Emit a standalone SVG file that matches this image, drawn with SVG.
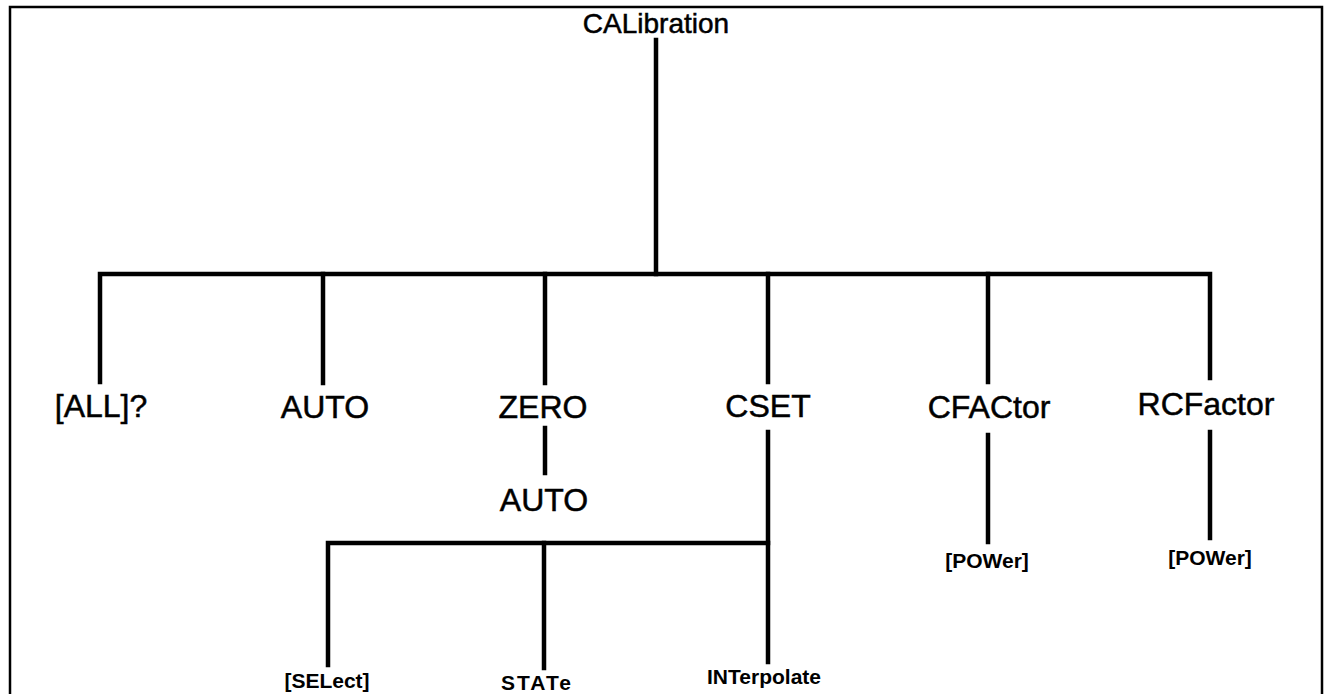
<svg xmlns="http://www.w3.org/2000/svg" width="1325" height="694" viewBox="0 0 1325 694">
<style>
.big{font-family:"Liberation Sans",Arial,sans-serif;font-size:32px;fill:#000;stroke:#000;stroke-width:0.5;text-anchor:middle}
.top{font-family:"Liberation Sans",Arial,sans-serif;font-size:28px;fill:#000;stroke:#000;stroke-width:0.5;text-anchor:middle}
.small{font-family:"Liberation Sans",Arial,sans-serif;font-size:21px;font-weight:bold;fill:#000;text-anchor:middle}
.ln{stroke:#000;stroke-width:4.5;fill:none;stroke-linecap:square}
.frame{stroke:#000;stroke-width:2.5;fill:none}
</style>
<rect width="1325" height="694" fill="#fff"/>
<path class="frame" d="M10 694 V7 H1322 V694"/>
<g id="connectors">
<path class="ln" d="M656 40 V274"/>
<path class="ln" d="M100 382 V274 H1210 V378"/>
<path class="ln" d="M323 274 V383"/>
<path class="ln" d="M545 274 V383"/>
<path class="ln" d="M768 274 V382"/>
<path class="ln" d="M988 274 V382"/>
<path class="ln" d="M545 428 V473"/>
<path class="ln" d="M768 432 V662"/>
<path class="ln" d="M328 665 V543 H768"/>
<path class="ln" d="M544 543 V668"/>
<path class="ln" d="M988 435 V542"/>
<path class="ln" d="M1210 432 V538"/>
</g>
<g id="n-calibration"><text class="top" x="656" y="33">CALibration</text></g>
<g id="n-all"><text class="big" x="101" y="417">[ALL]?</text></g>
<g id="n-auto"><text class="big" x="325" y="418">AUTO</text></g>
<g id="n-zero"><text class="big" x="543" y="418">ZERO</text></g>
<g id="n-cset"><text class="big" x="768" y="417">CSET</text></g>
<g id="n-cfactor"><text class="big" x="989" y="418">CFACtor</text></g>
<g id="n-rcfactor"><text class="big" x="1206" y="415">RCFactor</text></g>
<g id="n-zero-auto"><text class="big" x="544" y="511">AUTO</text></g>
<g id="n-select"><text class="small" x="327" y="688">[SELect]</text></g>
<g id="n-state"><text class="small" x="537" y="690" letter-spacing="2">STATe</text></g>
<g id="n-interpolate"><text class="small" x="764" y="684">INTerpolate</text></g>
<g id="n-cf-power"><text class="small" x="987" y="568">[POWer]</text></g>
<g id="n-rc-power"><text class="small" x="1210" y="565">[POWer]</text></g>
</svg>
